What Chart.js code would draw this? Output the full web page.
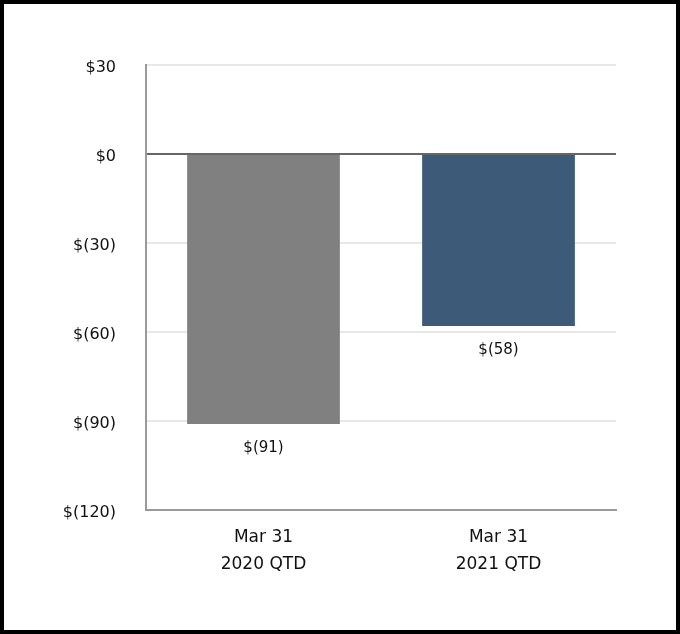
<!DOCTYPE html>
<html>
<head>
<meta charset="utf-8">
<script src="https://cdn.jsdelivr.net/npm/chart.js@4"></script>
<style>
  html, body { margin: 0; padding: 0; background: #fff; }
  #frame {
    position: absolute; left: 0; top: 0;
    width: 680px; height: 634px;
    box-sizing: border-box;
    border: 4px solid #000;
    background: #fff;
  }
  #myChart { display: block; }
</style>
</head>
<body>
<div id="frame"><canvas id="myChart" width="672" height="626"></canvas></div>
<script>
const categories = [['Mar 31', '2020 QTD'], ['Mar 31', '2021 QTD']];
const values = [-91, -58];
const barColors = ['#808080', '#3d5a78'];
const yMin = -120;
const yMax = 30;
const yStep = 30;

function money(v) {
    return v < 0 ? '$(' + Math.abs(v) + ')' : '$' + v;
}

const fontFamily = '"DejaVu Sans", "Noto Sans", sans-serif';

// labels under the end of each bar
const valueLabels = {
    id: 'valueLabels',
    afterDatasetsDraw(chart) {
        const ctx = chart.ctx;
        const meta = chart.getDatasetMeta(0);
        ctx.save();
        ctx.font = '15px ' + fontFamily;
        ctx.fillStyle = '#111';
        ctx.textAlign = 'center';
        ctx.textBaseline = 'middle';
        meta.data.forEach((bar, i) => {
            ctx.fillText(money(values[i]), bar.x, bar.y + 24);
        });
        ctx.restore();
    }
};

const ctx = document.getElementById('myChart').getContext('2d');
const myChart = new Chart(ctx, {
    type: 'bar',
    data: {
        labels: categories,
        datasets: [{
            data: values,
            backgroundColor: barColors,
            borderWidth: 0,
            barPercentage: 0.65,
            categoryPercentage: 1
        }]
    },
    options: {
        responsive: false,
        animation: false,
        layout: { padding: { top: 61, right: 60, left: 0, bottom: 0 } },
        plugins: {
            legend: { display: false },
            tooltip: { enabled: false }
        },
        scales: {
            x: {
                grid: { display: false, drawTicks: false },
                border: { display: true, color: '#9a9a9a', width: 2 },
                ticks: {
                    color: '#111',
                    padding: 14,
                    font: { family: fontFamily, size: 17, lineHeight: 1.6 }
                },
                afterFit(scale) { scale.height = 120; }
            },
            y: {
                min: yMin,
                max: yMax,
                grid: {
                    drawTicks: false,
                    color: c => c.tick && c.tick.value === 0 ? '#666666' : '#e8e8e8',
                    lineWidth: 2
                },
                border: { display: true, color: '#9a9a9a', width: 2 },
                ticks: {
                    stepSize: yStep,
                    color: '#111',
                    padding: 30,
                    labelOffset: 3,
                    font: { family: fontFamily, size: 16 },
                    callback: v => money(v)
                },
                afterFit(scale) { scale.width = 142; }
            }
        }
    },
    plugins: [valueLabels]
});
</script>
</body>
</html>
